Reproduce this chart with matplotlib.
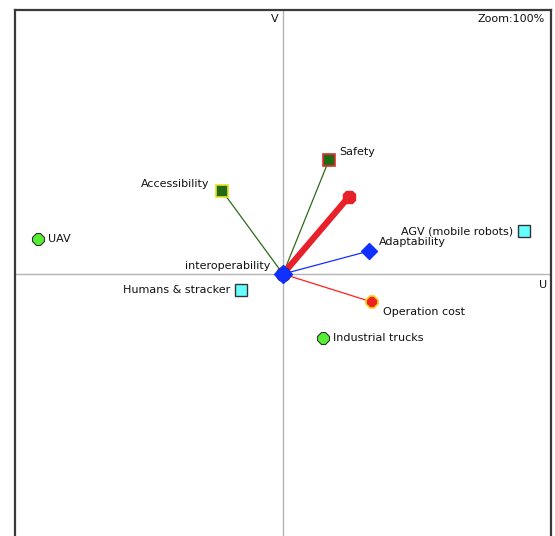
import matplotlib
matplotlib.use("Agg")
import matplotlib.pyplot as plt

# Variables (vectors from origin)
var_names = ["Safety", "Accessibility", "Adaptability", "Operation cost"]
var_u = [0.172, -0.228, 0.321, 0.332]
var_v = [0.433, 0.316, 0.087, -0.106]

# Supplementary (thick) vector
sup_u = 0.246
sup_v = 0.293

# Categories / observations
obs_names = ["UAV", "AGV (mobile robots)", "Humans & stracker", "Industrial trucks"]
obs_u = [-0.914, 0.899, -0.157, 0.149]
obs_v = [0.133, 0.163, -0.061, -0.243]

origin_name = "interoperability"

W, H = 555, 536
fig = plt.figure(figsize=(W / 100, H / 100), dpi=100)
fig.patch.set_facecolor("white")
left, right = 15 / W, 551 / W
top, bottom = 1 - 10 / H, 1 - 538 / H
ax = fig.add_axes([left, bottom, right - left, top - bottom])
ax.set_xlim(-1.0, 1.0)
ax.set_ylim(-1.0, 1.0)
ax.set_xticks([])
ax.set_yticks([])
for s in ["left", "top", "right"]:
    ax.spines[s].set_color("#3a3a3a")
    ax.spines[s].set_linewidth(1.6)
ax.spines["bottom"].set_visible(False)

ax.axhline(0, color="#b4b4b4", lw=1, zorder=1)
ax.axvline(0, color="#b4b4b4", lw=1, zorder=1)

font = "DejaVu Sans"
fs = 8

line_colors = ["#2e6b1e", "#2e6b1e", "#1030ff", "#ff2020"]
for u, v, c in zip(var_u, var_v, line_colors):
    ax.plot([0, u], [0, v], color=c, lw=0.9, zorder=2)
ax.plot([0, sup_u], [0, sup_v], color="#e8202a", lw=4.5, solid_capstyle="round", zorder=3)
ax.plot(sup_u, sup_v, marker="8", ms=10, mfc="#e8202a", mec="#e8202a", zorder=4)

# variable markers
ax.plot(var_u[0], var_v[0], marker="s", ms=9, mfc="#236b13", mec="#e03030", mew=1.2, zorder=5)
ax.plot(var_u[1], var_v[1], marker="s", ms=9, mfc="#236b13", mec="#e8e020", mew=1.2, zorder=5)
ax.plot(var_u[2], var_v[2], marker="D", ms=8, mfc="#1030ff", mec="#1030ff", zorder=5)
ax.plot(var_u[3], var_v[3], marker="8", ms=9, mfc="#ee2020", mec="#f0d020", mew=1.2, zorder=5)

# origin markers
ax.plot(0, 0, marker="o", ms=10, mfc="#a02020", mec="#402020", zorder=5)
ax.plot(0, 0, marker="D", ms=9, mfc="#1030ff", mec="#1030ff", zorder=6)

# observations
ax.plot(obs_u[0], obs_v[0], marker="8", ms=9, mfc="#55ee33", mec="#333333", mew=0.8, zorder=5)
ax.plot(obs_u[1], obs_v[1], marker="s", ms=9, mfc="#66ffff", mec="#333333", mew=1.0, zorder=5)
ax.plot(obs_u[2], obs_v[2], marker="s", ms=9, mfc="#66ffff", mec="#333333", mew=1.0, zorder=5)
ax.plot(obs_u[3], obs_v[3], marker="8", ms=9, mfc="#55ee33", mec="#333333", mew=0.8, zorder=5)

tkw = dict(fontsize=fs, family=font, color="#111111", zorder=7)
px = 2.0 / 536
py = 2.0 / 526

ax.text(var_u[0] + 10 * px, var_v[0] + 8 * py, var_names[0], ha="left", va="center", **tkw)
ax.text(var_u[1] - 12 * px, var_v[1] + 7 * py, var_names[1], ha="right", va="center", **tkw)
ax.text(var_u[2] + 10 * px, var_v[2] + 9 * py, var_names[2], ha="left", va="center", **tkw)
ax.text(var_u[3] + 11 * px, var_v[3] - 10 * py, var_names[3], ha="left", va="center", **tkw)
ax.text(-13 * px, 8 * py, origin_name, ha="right", va="center", **tkw)

ax.text(obs_u[0] + 10 * px, obs_v[0], obs_names[0], ha="left", va="center", **tkw)
ax.text(obs_u[1] - 11 * px, obs_v[1] - 1 * py, obs_names[1], ha="right", va="center", **tkw)
ax.text(obs_u[2] - 11 * px, obs_v[2], obs_names[2], ha="right", va="center", **tkw)
ax.text(obs_u[3] + 10 * px, obs_v[3], obs_names[3], ha="left", va="center", **tkw)

ax.text(-4 * px, 1 - 9 * py, "V", ha="right", va="center", **tkw)
ax.text(1 - 4 * px, -11 * py, "U", ha="right", va="center", **tkw)
ax.text(1 - 6 * px, 1 - 9 * py, "Zoom:100%", ha="right", va="center", **tkw)

fig.savefig("out.png", dpi=100, facecolor="white")
